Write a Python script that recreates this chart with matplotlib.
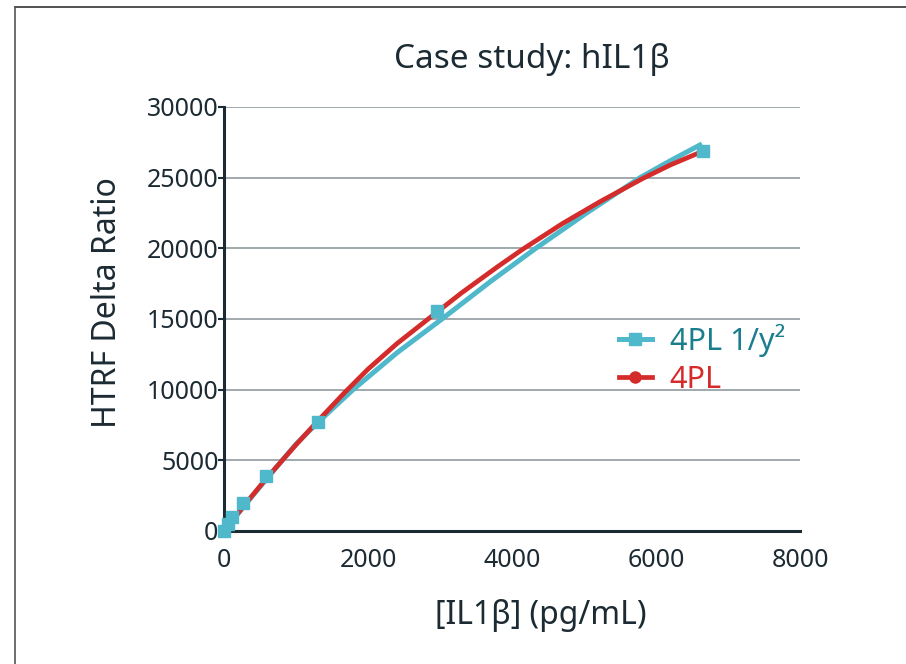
import matplotlib
matplotlib.use("Agg")
import matplotlib.pyplot as plt
from matplotlib.lines import Line2D

plt.rcParams['font.family'] = ['Noto Sans', 'DejaVu Sans']

# Measured standards (4PL 1/y^2 markers)
conc = [0, 51, 115, 259, 584, 1306, 2958, 6650]
signal = [0, 495, 990, 1981, 3891, 7712, 15600, 26900]

# Fitted curve samples
fit_x_w = [0, 300, 585, 1000, 1306, 1792, 2400, 3028, 3700, 4330, 5050, 5778, 6200, 6639]
fit_y_w = [0, 1900, 3650, 6150, 7700, 10000, 12600, 15000, 17650, 20000, 22550, 25000, 26200, 27390]

fit_x_u = [0, 300, 585, 1000, 1306, 1667, 2000, 2400, 2861, 3300, 3800, 4153, 4700, 5222, 5819, 6200, 6640]
fit_y_u = [0, 1930, 3700, 6100, 7800, 9750, 11450, 13250, 15100, 16850, 18700, 19950, 21750, 23300, 24950, 25900, 26850]

xticks = [0, 2000, 4000, 6000, 8000]
yticks = [0, 5000, 10000, 15000, 20000, 25000, 30000]

cyan = '#50b8cb'
red = '#d42b2b'
dark = '#1c2b33'

fig = plt.figure(figsize=(9.06, 6.64), dpi=100)
ax = fig.add_axes([224/906, 1-531/664, (800-224)/906, (531-107)/664])

for yv in yticks[1:]:
    ax.axhline(yv, color='#9aa2a6', lw=1.3, zorder=1)

ax.plot(fit_x_w, fit_y_w, color=cyan, lw=3.6, solid_capstyle='butt', solid_joinstyle='round', zorder=3)
ax.plot(fit_x_u, fit_y_u, color=red, lw=3.4, solid_capstyle='butt', solid_joinstyle='round', zorder=4)
ax.plot(conc, signal, ls='none', marker='s', ms=9, color=cyan, zorder=5, clip_on=False)

ax.set_xlim(0, 8000)
ax.set_ylim(0, 30000)
ax.set_xticks(xticks)
ax.set_yticks(yticks)
ax.tick_params(axis='y', length=4, width=1.5, color=dark, labelsize=18, labelcolor=dark, pad=0)
ax.tick_params(axis='x', length=0, labelsize=18, labelcolor=dark, pad=12)
for s in ['top', 'right']:
    ax.spines[s].set_visible(False)
for s in ['left', 'bottom']:
    ax.spines[s].set_color(dark)
    ax.spines[s].set_linewidth(2.2)

fig.text(541/906, 1-615/664, '[IL1β] (pg/mL)', fontsize=23, color=dark, ha='center', va='center')
fig.text(107/906, 1-303/664, 'HTRF Delta Ratio', fontsize=23, color=dark, ha='center', va='center', rotation=90)
fig.text(532/906, 1-60/664, 'Case study: hIL1β', fontsize=24, color=dark, ha='center', va='center')

handles = [Line2D([], [], color=cyan, lw=3.6, marker='s', ms=8),
           Line2D([], [], color=red, lw=3.4, marker='o', ms=8)]
leg = ax.legend(handles, ['4PL 1/y²', '4PL'], loc='center left',
                bbox_to_anchor=(0.66, 0.405), frameon=False, fontsize=22,
                handlelength=1.05, handletextpad=0.6, labelspacing=0.25, borderpad=0)
leg.get_texts()[0].set_color('#1b7e8e')
leg.get_texts()[1].set_color(red)

# outer frame
fig.add_artist(Line2D([15/906, 1], [1-7/664, 1-7/664], transform=fig.transFigure, color='#333333', lw=1.2))
fig.add_artist(Line2D([15/906, 15/906], [0, 1-7/664], transform=fig.transFigure, color='#555555', lw=1.2))

fig.savefig('out.png', dpi=100)
